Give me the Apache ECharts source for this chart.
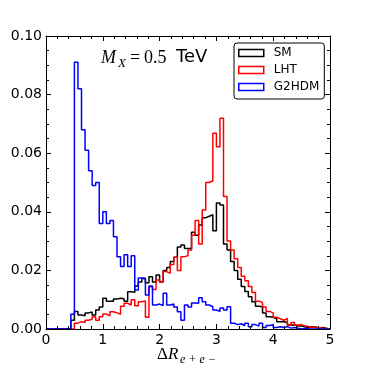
<!DOCTYPE html>
<html>
<head>
<meta charset="utf-8">
<script src="https://cdn.jsdelivr.net/npm/echarts@6/dist/echarts.min.js"></script>
<style>
  html, body { margin: 0; padding: 0; background: #fff; }
  #chart { width: 367px; height: 367px; }
</style>
</head>
<body>
<div id="chart"></div>
<script>
// histogram bins: 80 bins of width 0.0625 over 0..5
const BIN_WIDTH = 0.0625
const BIN_COUNT = 80
const xTicks = [0, 1, 2, 3, 4, 5]
const yTicks = [0, 0.02, 0.04, 0.06, 0.08, 0.1]

const seriesNames = ['SM', 'LHT', 'G2HDM']
const seriesColors = ['#000000', '#ff0000', '#0000ff']

const smValues = [
  0, 0, 0, 0, 0, 0, 0, 0.003, 0.006, 0.0048,
  0.0045, 0.0055, 0.0058, 0.0048, 0.0065, 0.0075, 0.0105, 0.0095, 0.0095, 0.0102,
  0.0105, 0.0103, 0.0095, 0.0127, 0.0125, 0.0147, 0.016, 0.0173, 0.0158, 0.0178,
  0.016, 0.0184, 0.016, 0.02, 0.021, 0.023, 0.0245, 0.028, 0.0287, 0.0275,
  0.0275, 0.033, 0.032, 0.0355, 0.038, 0.0385, 0.039, 0.0335, 0.043, 0.0423,
  0.029, 0.027, 0.023, 0.02, 0.017, 0.0145, 0.0128, 0.011, 0.0093, 0.0078,
  0.0075, 0.0055, 0.0042, 0.004, 0.0035, 0.0025, 0.0025, 0.0022, 0.0014, 0.0014,
  0.001, 0.001, 0.0008, 0.0005, 0.0008, 0.0005, 0.0003, 0.0005, 0.0003, 0
]

const lhtValues = [
  0, 0, 0, 0, 0, 0, 0, 0, 0.002, 0.0025,
  0.0022, 0.003, 0.0033, 0.0042, 0.003, 0.0042, 0.0051, 0.0045, 0.0059, 0.0055,
  0.005, 0.0078, 0.0088, 0.0082, 0.01, 0.0079, 0.0093, 0.0096, 0.004, 0.0144,
  0.0135, 0.0167, 0.016, 0.0196, 0.019, 0.022, 0.0245, 0.02, 0.0247, 0.025,
  0.027, 0.032, 0.037, 0.029, 0.0406, 0.05, 0.0506, 0.0668, 0.0622, 0.0719,
  0.0452, 0.03, 0.027, 0.024, 0.021, 0.018, 0.0165, 0.0145, 0.0125, 0.0095,
  0.009, 0.0075, 0.006, 0.0055, 0.004, 0.0035, 0.003, 0.0036, 0.0014, 0.0022,
  0.0014, 0.0015, 0.001, 0.0008, 0.0005, 0.0008, 0.0003, 0.0003, 0, 0
]

const g2hdmValues = [
  0, 0, 0, 0, 0, 0, 0, 0.005, 0.091, 0.082,
  0.068, 0.061, 0.054, 0.049, 0.05, 0.036, 0.04, 0.036, 0.037, 0.0315,
  0.0247, 0.0213, 0.0253, 0.0213, 0.025, 0.0133, 0.0174, 0.017, 0.0116, 0.0147,
  0.0082, 0.0085, 0.008, 0.0122, 0.0082, 0.0085, 0.0075, 0.0059, 0.003, 0.0082,
  0.0075, 0.0089, 0.0088, 0.0107, 0.0093, 0.0082, 0.0076, 0.0065, 0.006, 0.0072,
  0.0065, 0.0076, 0.002, 0.0015, 0.0018, 0.0012, 0.002, 0.0008, 0.0015, 0.001,
  0.002, 0.0005, 0.0012, 0.0015, 0.0005, 0.0008, 0.0005, 0.0008, 0.0003, 0.0005,
  0.0003, 0, 0.0003, 0, 0, 0, 0, 0, 0, 0
]

const allValues = [smValues, lhtValues, g2hdmValues]

// step outline: value at each left bin edge, then close at the right edge
function stepData(values) {
  const pts = []
  for (let k = 0; k < BIN_COUNT; k++) {
    pts.push([k * BIN_WIDTH, values[k]])
  }
  pts.push([BIN_COUNT * BIN_WIDTH, 0])
  return pts
}

const chart = echarts.init(document.getElementById('chart'))

const font = 'DejaVu Sans'
const serif = 'Liberation Serif'

function axisCommon(min, max, interval, minorSplit) {
  return {
    type: 'value',
    min: min,
    max: max,
    interval: interval,
    z: 5,
    axisLine: { show: true, onZero: false, lineStyle: { color: '#000', width: 1 } },
    axisTick: { show: true, inside: true, length: 5, lineStyle: { color: '#000', width: 1 } },
    minorTick: { show: true, splitNumber: minorSplit, length: 3, lineStyle: { color: '#000', width: 1 } },
    splitLine: { show: false },
    minorSplitLine: { show: false }
  }
}

const xBottom = Object.assign(axisCommon(xTicks[0], xTicks[xTicks.length - 1], 1, 5), {
  position: 'bottom',
  axisLabel: { color: '#000', fontSize: 14, fontFamily: font, margin: 4 }
})
const xTop = Object.assign(axisCommon(xTicks[0], xTicks[xTicks.length - 1], 1, 5), {
  position: 'top',
  axisLabel: { show: false }
})
const yLeft = Object.assign(axisCommon(yTicks[0], yTicks[yTicks.length - 1], 0.02, 4), {
  position: 'left',
  axisLabel: {
    color: '#000', fontSize: 14, fontFamily: font, margin: 4,
    formatter: function(v) { return v.toFixed(2) }
  }
})
const yRight = Object.assign(axisCommon(yTicks[0], yTicks[yTicks.length - 1], 0.02, 4), {
  position: 'right',
  axisLabel: { show: false }
})

chart.setOption({
  animation: false,
  backgroundColor: '#fff',
  grid: { left: 46, right: 37, top: 36, bottom: 38 },
  xAxis: [xBottom, xTop],
  yAxis: [yLeft, yRight],
  legend: {
    orient: 'vertical',
    left: 234,
    top: 43,
    padding: [4, 5, 6, 4],
    itemWidth: 25,
    itemHeight: 7,
    itemGap: 5,
    borderColor: '#000',
    borderWidth: 1,
    borderRadius: 3,
    backgroundColor: '#fff',
    textStyle: { color: '#000', fontSize: 12, fontFamily: font, padding: [0, 0, 0, 5] },
    data: seriesNames.map(function(name, i) {
      return {
        name: name,
        icon: 'rect',
        itemStyle: { color: 'rgba(0,0,0,0)', borderColor: seriesColors[i], borderWidth: 1.5 }
      }
    })
  },
  graphic: [
    { type: 'text', left: 101, top: 49, style: { text: 'M', font: 'italic 18px ' + serif, fill: '#000' } },
    { type: 'text', left: 118, top: 57, style: { text: 'X', font: 'italic 13px ' + serif, fill: '#000' } },
    { type: 'text', left: 130, top: 49, style: { text: '=', font: '18px ' + serif, fill: '#000' } },
    { type: 'text', left: 144, top: 49, style: { text: '0.5', font: '18px ' + serif, fill: '#000' } },
    { type: 'text', left: 176, top: 48, style: { text: 'TeV', font: '18px ' + font, fill: '#000' } },
    { type: 'text', left: 157, top: 346, style: { text: 'Δ', font: '17px ' + serif, fill: '#000' } },
    { type: 'text', left: 168, top: 346, style: { text: 'R', font: 'italic 17px ' + serif, fill: '#000' } },
    { type: 'text', left: 180, top: 354, style: { text: 'e + e −', font: 'italic 12px ' + serif, fill: '#000' } }
  ],
  series: seriesNames.map(function(name, i) {
    return {
      name: name,
      type: 'line',
      step: 'end',
      showSymbol: false,
      symbol: 'none',
      itemStyle: { color: seriesColors[i] },
      lineStyle: { color: seriesColors[i], width: 1.5 },
      data: stepData(allValues[i])
    }
  })
})
</script>
</body>
</html>
